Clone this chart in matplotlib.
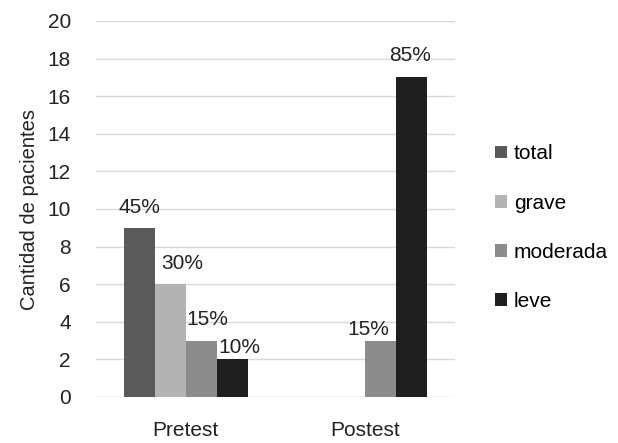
import matplotlib.pyplot as plt
import numpy as np

# --- données ---
grupos = ["Pretest", "Postest"]
series = ["total", "grave", "moderada", "leve"]
valores = {
    "total": [9, 0],
    "grave": [6, 0],
    "moderada": [3, 3],
    "leve": [2, 17],
}
etiquetas = {
    "total": ["45%", None],
    "grave": ["30%", None],
    "moderada": ["15%", "15%"],
    "leve": ["10%", "85%"],
}
colores = {"total": "#5a5a5a", "grave": "#b3b3b3", "moderada": "#8c8c8c", "leve": "#1f1f1f"}

# décalages des étiquettes (points)
decal = {
    "total": [(0, 8), None],
    "grave": [(9, 8), None],
    "moderada": [(4, 8), (-9, 1)],
    "leve": [(5, 2), (-1, 9)],
}

plt.rcParams['font.family'] = ['Liberation Sans', 'DejaVu Sans']

fig = plt.figure(figsize=(6.18, 4.43), dpi=100)
ax = fig.add_axes([96/618, 46/443, 359/618, 376/443])

x = np.arange(len(grupos))
w = 0.173
for i, s in enumerate(series):
    pos = x + (i - 1.5) * w
    barras = ax.bar(pos, valores[s], w, color=colores[s], label=s, zorder=3)
    for j, b in enumerate(barras):
        if etiquetas[s][j] is None:
            continue
        dx, dy = decal[s][j]
        ax.annotate(etiquetas[s][j], (b.get_x() + b.get_width()/2, b.get_height()),
                    xytext=(dx, dy), textcoords="offset points",
                    ha="center", va="bottom", fontsize=15, color="#222222")

ax.set_xlim(-0.5, 1.5)
ax.set_ylim(0, 20)
ax.set_yticks(range(0, 21, 2))
ax.set_xticks(x)
ax.set_xticklabels(grupos)
ax.tick_params(axis='both', length=0, labelsize=15, colors="#222222")
ax.tick_params(axis='y', pad=18)
ax.tick_params(axis='x', pad=17)
ax.grid(axis='y', color="#d9d9d9", linewidth=1, zorder=0)
for sp in ax.spines.values():
    sp.set_visible(False)
ax.set_ylabel("Cantidad de pacientes", fontsize=14.5, color="#222222", labelpad=6)

ax.legend(loc="center left", bbox_to_anchor=(1.06, 0.45), frameon=False,
          fontsize=15, handlelength=0.55, handleheight=0.55, handletextpad=0.35,
          labelspacing=1.45)

plt.savefig("out.png", dpi=100)
